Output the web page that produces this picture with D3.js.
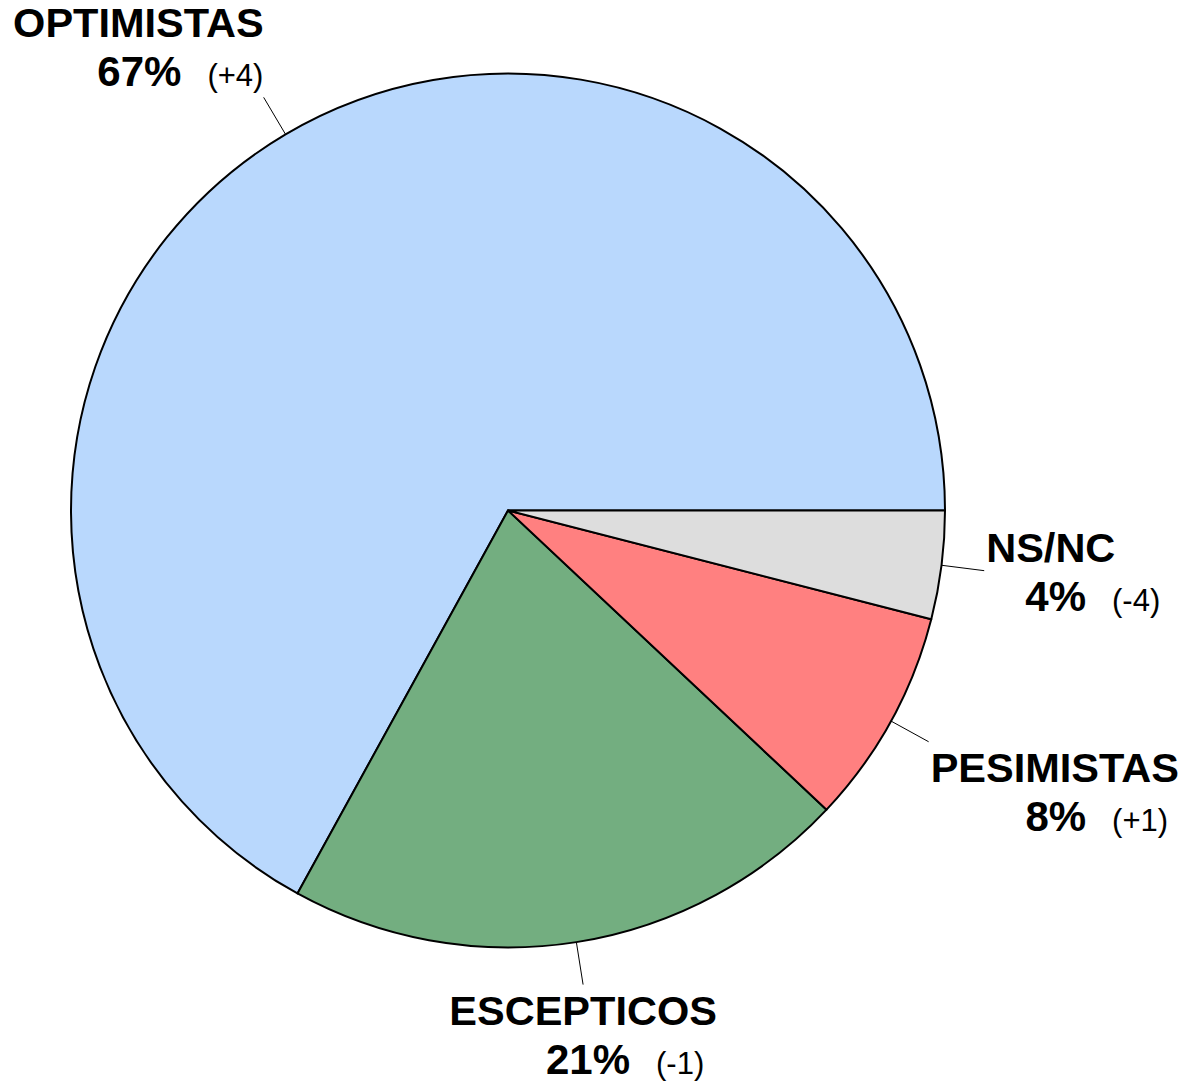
<!DOCTYPE html>
<html>
<head>
<meta charset="utf-8">
<script src="https://cdn.jsdelivr.net/npm/d3@7"></script>
<style>
  html, body { margin: 0; padding: 0; background: #fff; }
  svg { display: block; font-family: "Liberation Sans", Arial, sans-serif; }
</style>
</head>
<body>
<svg id="chart" width="1184" height="1081"></svg>
<script>
// data
const categories = ["OPTIMISTAS", "ESCEPTICOS", "PESIMISTAS", "NS/NC"];
const values = [67, 21, 8, 4];
const changes = ["(+4)", "(-1)", "(+1)", "(-4)"];
const colors = ["#b9d8fd", "#73ae80", "#ff8080", "#dddddd"];

const svg = d3.select("#chart"),
  width = +svg.attr("width"),
  height = +svg.attr("height");

const cx = 508, cy = 510.5, r = 437;
const leaderLen = 43;

const slices = categories.map((c, i) => ({name: c, value: values[i], change: changes[i], color: colors[i]}));

// counter-clockwise starting from 3 o'clock
const pie = d3.pie()
  .sort(null)
  .value(d => d.value)
  .startAngle(Math.PI / 2)
  .endAngle(Math.PI / 2 - 2 * Math.PI);

const arc = d3.arc().innerRadius(0).outerRadius(r);

const g = svg.append("g").attr("transform", `translate(${cx},${cy})`);

const arcs = pie(slices);

g.selectAll("path")
  .data(arcs)
  .enter().append("path")
  .attr("d", arc)
  .attr("fill", d => d.data.color)
  .attr("stroke", "#000")
  .attr("stroke-width", 2)
  .attr("stroke-linejoin", "round");

// leader lines + labels
arcs.forEach(d => {
  const a = (d.startAngle + d.endAngle) / 2;
  const sx = Math.sin(a), sy = -Math.cos(a);
  const x1 = sx * r, y1 = sy * r;
  const x2 = sx * (r + leaderLen), y2 = sy * (r + leaderLen);

  g.append("line")
    .attr("x1", x1).attr("y1", y1)
    .attr("x2", x2).attr("y2", y2)
    .attr("stroke", "#000")
    .attr("stroke-width", 1);

  const lab = g.append("g");
  const name = lab.append("text")
    .attr("text-anchor", "middle")
    .attr("font-weight", "bold")
    .attr("font-size", "41.5px")
    .attr("y", 42)
    .text(d.data.name);
  const w = name.node().getComputedTextLength();

  const second = lab.append("text")
    .attr("text-anchor", "middle")
    .attr("x", 42)
    .attr("y", 91);
  second.append("tspan")
    .attr("font-weight", "bold")
    .attr("font-size", "42px")
    .text(d.data.value + "%");
  second.append("tspan")
    .attr("dx", 26)
    .attr("font-size", "31px")
    .text(d.data.change);

  const boxH = 102;
  let bx, by;
  if (Math.abs(sx) < 0.3) bx = x2;
  else if (sx < 0) bx = x2 - w / 2;
  else bx = x2 + 2 + w / 2;
  if (Math.abs(sy) < 0.3) by = y2 - boxH / 2;
  else if (sy < 0) by = y2 - boxH;
  else by = y2 - 2;
  lab.attr("transform", `translate(${bx},${by})`);
});
</script>
</body>
</html>
